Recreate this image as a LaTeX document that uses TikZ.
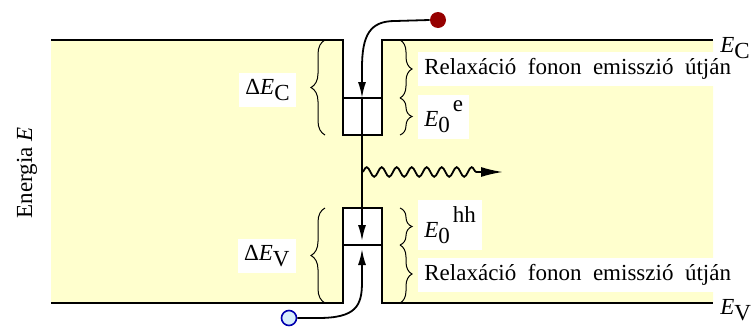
\documentclass[tikz,border=0pt]{standalone}
\usepackage{fontspec}
\setmainfont{Liberation Serif}
\usetikzlibrary{arrows.meta,decorations.pathreplacing,decorations.pathmorphing}
\definecolor{gapyellow}{RGB}{255,255,206}
\definecolor{elecred}{RGB}{150,0,0}
\definecolor{holeblue}{RGB}{0,0,175}
\definecolor{holefill}{RGB}{215,238,252}
\newcommand{\sub}[1]{\raisebox{-0.6ex}{#1}}
\newcommand{\sups}[1]{\raisebox{1.4ex}{\hspace{1.5pt}#1}}

\begin{document}
\begin{tikzpicture}[x=0.5pt,y=-0.5pt,
  edge/.style={line width=1.2pt},
  lbl/.style={fill=white, inner sep=3pt, font=\fontsize{11.5}{13.5}\selectfont},
  brL/.style={decorate, decoration={brace, amplitude=7pt}, line width=0.5pt},
  brR/.style={decorate, decoration={brace, amplitude=6pt}, line width=0.5pt},
  tip/.style={-{Latex[length=8pt,width=4pt]}, line width=0.9pt}]
\useasboundingbox (0,0) rectangle (751,327);
% band gap
\fill[gapyellow] (51,40) -- (343,40) -- (343,135) -- (382,135) -- (382,40) -- (713,40)
  -- (713,303) -- (382,303) -- (382,208) -- (343,208) -- (343,303) -- (51,303) -- cycle;
% band edges and levels
\draw[edge] (51,40) -- (343,40) -- (343,135) -- (382,135) -- (382,40) -- (713,40);
\draw[edge] (51,303) -- (343,303) -- (343,208) -- (382,208) -- (382,303) -- (713,303);
\draw[edge] (343,98) -- (382,98);
\draw[edge] (343,245) -- (382,245);
% braces
\draw[brL] (325,135) -- (325,40);
\draw[brL] (325,303) -- (325,208);
\draw[brR] (400,40) -- (400,98);
\draw[brR] (400,98) -- (400,135);
\draw[brR] (400,208) -- (400,245);
\draw[brR] (400,245) -- (400,303);
% labels
\node[lbl, anchor=east] (dEC) at (296,90) {Δ\textit{E}\sub{C}};
\node[lbl, anchor=east] (dEV) at (296,256) {Δ\textit{E}\sub{V}};
\node[lbl, anchor=west] (relC) at (418,69) {Relaxáció\ \ fonon\ \ emisszió\ \ útján};
\node[lbl, anchor=west] (e0e) at (418,117) {\textit{E}\sub{0}\sups{e}};
\node[lbl, anchor=west] (e0hh) at (418,225) {\textit{E}\sub{0}\sups{hh}};
\node[lbl, anchor=west] (relV) at (418,275) {Relaxáció\ \ fonon\ \ emisszió\ \ útján};
\node[lbl, fill=none, anchor=west, inner sep=1pt] (EC) at (718,48) {\textit{E}\sub{C}};
\node[lbl, fill=none, anchor=west, inner sep=1pt] (EV) at (718,310) {\textit{E}\sub{V}};
\node[lbl, fill=none, rotate=90] (axis) at (27,173) {Energia \textit{E}};
% carriers
\node[circle, fill=elecred, inner sep=0pt, minimum size=8pt] (elec) at (438,20) {};
\node[circle, draw=holeblue, fill=holefill, line width=0.8pt, inner sep=0pt, minimum size=7.5pt] (hole) at (289,318) {};
\coordinate (cLvl) at (362,98);
\coordinate (meetE) at (362,241);
\coordinate (meetH) at (362,249);
\draw[tip] (elec.west) -- (395,21) .. controls (370,21) and (362,35) .. (362,68) -- (cLvl);
\draw[tip] (cLvl) -- (meetE);
\draw[tip] (hole.east) -- (318,318) .. controls (356,318) and (362,306) .. (362,282) -- (meetH);
% photon
\coordinate (wStart) at (362,172);
\coordinate (wEnd) at (503,172);
\draw[line width=0.9pt, -{Latex[length=11pt,width=5pt]}, decorate,
  decoration={snake, amplitude=2.4pt, segment length=7.5pt, post length=11pt}] (wStart) -- (wEnd);
\end{tikzpicture}
\end{document}
